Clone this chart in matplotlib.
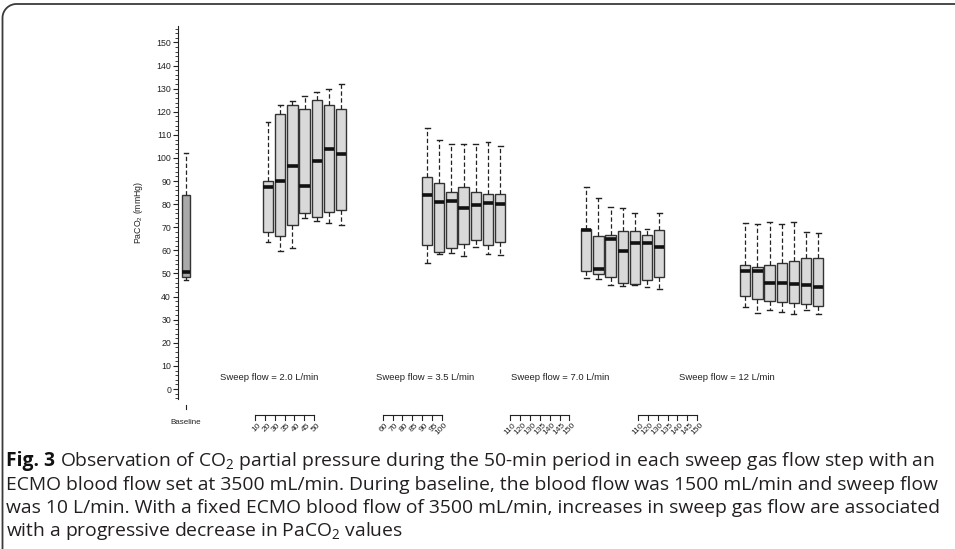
import matplotlib.pyplot as plt
import numpy as np

plt.rcParams['font.family'] = ['Liberation Sans', 'DejaVu Sans']

# PaCO2 (mmHg) box summaries
baseline = dict(whislo=47, q1=48.5, med=50.5, q3=84, whishi=102)

sweep_labels = ['Sweep flow = 2.0 L/min', 'Sweep flow = 3.5 L/min',
                'Sweep flow = 7.0 L/min', 'Sweep flow = 12 L/min']
time_labels = [['10', '20', '30', '35', '40', '45', '50'],
               ['60', '70', '80', '85', '90', '95', '100'],
               ['110', '120', '130', '135', '140', '145', '150'],
               ['110', '120', '130', '135', '140', '145', '150']]

whislo = [[63.8, 59.7, 61.2, 74.2, 72.7, 71.7, 70.8],
          [54.4, 58.4, 59.0, 57.6, 61.6, 58.4, 58.1],
          [47.9, 47.6, 44.9, 44.6, 45.0, 44.3, 43.2],
          [35.4, 33.0, 34.2, 33.2, 32.3, 34.2, 32.6]]
q1 = [[67.8, 66.2, 70.8, 76.0, 74.6, 76.5, 77.5],
      [62.2, 59.3, 60.9, 62.6, 64.6, 62.2, 63.8],
      [51.2, 49.7, 48.6, 46.0, 45.3, 47.0, 48.6],
      [40.3, 38.8, 38.1, 37.7, 37.4, 36.9, 36.1]]
med = [[87.5, 90.2, 96.7, 87.9, 98.7, 103.9, 101.7],
       [83.8, 81.0, 81.4, 78.2, 79.8, 80.7, 80.2],
       [68.8, 51.8, 64.9, 59.7, 63.0, 63.0, 61.5],
       [50.9, 50.9, 46.0, 46.0, 45.3, 44.9, 44.2]]
q3 = [[90.0, 118.9, 122.8, 121.0, 125.0, 122.8, 121.0],
      [91.6, 89.2, 85.4, 87.3, 85.4, 84.6, 84.6],
      [69.2, 66.4, 66.8, 68.4, 68.4, 66.8, 69.0],
      [53.7, 52.9, 53.5, 54.4, 55.3, 56.7, 56.7]]
whishi = [[115.7, 123.0, 124.7, 127.0, 128.7, 129.7, 131.9],
          [112.9, 108.0, 105.9, 105.9, 105.9, 106.8, 105.0],
          [87.6, 82.7, 78.6, 78.2, 76.0, 69.1, 76.0],
          [71.9, 71.3, 72.3, 71.3, 72.3, 68.1, 67.5]]

caption_bold = 'Fig. 3'
caption_lines = [
    ' Observation of CO$_{\\mathregular{2}}$ partial pressure during the 50-min period in each sweep gas flow step with an',
    'ECMO blood flow set at 3500 mL/min. During baseline, the blood flow was 1500 mL/min and sweep flow',
    'was 10 L/min. With a fixed ECMO blood flow of 3500 mL/min, increases in sweep gas flow are associated',
    'with a progressive decrease in PaCO$_{\\mathregular{2}}$ values',
]

W, H = 955, 549
fig = plt.figure(figsize=(W / 100, H / 100), dpi=100)

# frame around figure + caption
frame = fig.add_axes([0, 0, 1, 1])
frame.set_xlim(0, W)
frame.set_ylim(H, 0)
frame.axis('off')
r = 14
t = np.linspace(np.pi, 1.5 * np.pi, 30)
fx = np.concatenate([[2.5, 2.5], 2.5 + r + r * np.cos(t), [W]])
fy = np.concatenate([[H, 4 + r], 4 + r + r * np.sin(t), [4]])
frame.plot(fx, fy, color='#3a3a3a', lw=1.3)

# main axes
ax = fig.add_axes([178 / W, (H - 399.4) / H, 682 / W, (399.4 - 26.3) / H])
ax.set_ylim(-4.5, 157)
ax.set_xlim(0, 682 / 12.17)

ink = '#222222'
box_kw = dict(patch_artist=True, showfliers=False,
              medianprops=dict(color='#111111', lw=2.6),
              whiskerprops=dict(color=ink, lw=0.9, ls=(0, (3.5, 2))),
              capprops=dict(color=ink, lw=1.0), capwidths=0.4)

ax.bxp([baseline], positions=[0.66], widths=0.65,
       boxprops=dict(facecolor='#a9a9a9', edgecolor='#333333', lw=1.0), **box_kw)

for g in range(4):
    stats = [dict(whislo=whislo[g][i], q1=q1[g][i], med=med[g][i],
                  q3=q3[g][i], whishi=whishi[g][i]) for i in range(7)]
    pos = 7.40 + g * 13.07 + np.arange(7)
    ax.bxp(stats, positions=pos, widths=0.85,
           boxprops=dict(facecolor='#d9d9d9', edgecolor='#333333', lw=1.0), **box_kw)

for s in ['top', 'right', 'bottom']:
    ax.spines[s].set_visible(False)
ax.spines['left'].set_color(ink)
ax.spines['left'].set_linewidth(0.8)
ax.set_xticks([])
ax.set_yticks(np.arange(0, 151, 10))
ax.set_yticks(np.arange(-4, 157, 2), minor=True)
ax.tick_params(axis='y', which='major', labelsize=6.3, length=3.5, width=0.8,
               pad=1.5, colors=ink)
ax.tick_params(axis='y', which='minor', length=2, width=0.6, colors=ink)
ax.set_ylabel('PaCO$_{\\mathregular{2}}$ (mmHg)', fontsize=6.3, color=ink)
ax.yaxis.set_label_coords(-33 / 682, 0.5)

# baseline tick and label
ax.plot([0.66, 0.66], [-6.9, -8.7], color=ink, lw=0.8, clip_on=False)
ax.text(0.66, -14.7, 'Baseline', fontsize=5.8, ha='center', va='center', color=ink)

# sweep flow labels and little time axes under each group
label_x = [7.48, 20.3, 31.4, 45.1]
for g in range(4):
    ax.text(label_x[g], 4.8, sweep_labels[g], fontsize=6.8, ha='center',
            va='center', color=ink)
    tx = 6.33 + g * 10.49 + 0.808 * np.arange(7)
    ax.plot([tx[0], tx[-1]], [-11.3, -11.3], color=ink, lw=0.8, clip_on=False)
    for x, lab in zip(tx, time_labels[g]):
        ax.plot([x, x], [-11.3, -13.4], color=ink, lw=0.8, clip_on=False)
        ax.text(x + 0.2, -14.0, lab, fontsize=6, rotation=45, ha='right',
                va='top', rotation_mode='anchor', color=ink)

# caption, sized so the second line spans the same width as the original
cap_font = ['Open Sans', 'DejaVu Sans']
cap_color = '#231f20'
line_y = [461, 485, 508, 531]
renderer = fig.canvas.get_renderer()
probe = fig.text(0, 0, caption_lines[1], fontsize=12, family=cap_font)
fs = 12 * 929 / probe.get_window_extent(renderer).width
probe.remove()

fb = fig.text(6 / W, 1 - line_y[0] / H, caption_bold, fontsize=fs, fontweight='bold',
              family=cap_font, va='center', color='#111111')
bb = fb.get_window_extent(renderer)
fig.text(bb.x1 / W, 1 - line_y[0] / H, caption_lines[0], fontsize=fs,
         family=cap_font, va='center', color=cap_color)
for ly, line in zip(line_y[1:], caption_lines[1:]):
    fig.text(6 / W, 1 - ly / H, line, fontsize=fs, family=cap_font,
             va='center', color=cap_color)

fig.savefig('out.png', dpi=100)
